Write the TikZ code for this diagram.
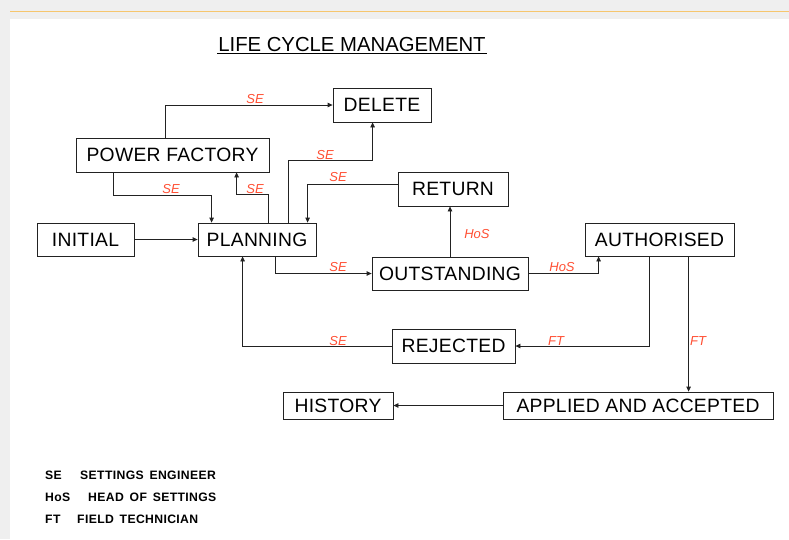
\documentclass[tikz,border=0pt]{standalone}
\usepackage{fontspec}
\setmainfont{Liberation Sans}
\newfontfamily\bxfont[LetterSpace=1.5]{Liberation Sans}
\newfontfamily\lgfont[LetterSpace=3]{Liberation Sans}
\usetikzlibrary{arrows.meta}
\definecolor{bggray}{HTML}{EFEFEF}
\definecolor{topline}{HTML}{F6C66E}
\definecolor{lblred}{HTML}{FF4F33}
\definecolor{linec}{HTML}{222222}
\tikzset{
  box/.style={draw=linec, line width=0.8pt, inner sep=0pt, font=\bxfont\fontsize{19.3}{21}\selectfont},
  arr/.style={draw=linec, line width=0.8pt, -{Triangle[length=5pt,width=4.5pt]}},
  lbl/.style={text=lblred, font=\fontsize{13}{14}\selectfont\itshape, inner sep=0pt},
  leg/.style={font=\lgfont\fontsize{12.2}{14}\selectfont\bfseries, inner sep=0pt, anchor=west}
}
\begin{document}
\begin{tikzpicture}[x=1pt,y=-1pt]
\useasboundingbox (0,0) rectangle (789,539);
\fill[bggray] (0,0) rectangle (789,539);
\draw[topline, line width=1pt] (10,11.5) -- (789,11.5);
\fill[white] (10,19) rectangle (789,539);

% title
\node[font=\fontsize{20.3}{22}\selectfont, inner sep=1pt] (title) at (352,45) {LIFE CYCLE MANAGEMENT};
\draw[line width=1pt] (title.south west) -- (title.south east);

% boxes
\node[box, minimum width=98pt, minimum height=34pt] (del) at (382,105) {DELETE};
\node[box, minimum width=193pt, minimum height=34pt] (pf) at (172.5,155) {POWER FACTORY};
\node[box, minimum width=118pt, minimum height=33pt] (pln) at (257,239.5) {PLANNING};
\node[box, minimum width=97pt, minimum height=33pt] (ini) at (85.5,239.5) {INITIAL};
\node[box, minimum width=110pt, minimum height=34pt] (ret) at (453,189) {RETURN};
\node[box, minimum width=156pt, minimum height=33pt] (out) at (450,273.5) {OUTSTANDING};
\node[box, minimum width=149pt, minimum height=33pt] (aut) at (659.5,239.5) {AUTHORISED};
\node[box, minimum width=270pt, minimum height=27pt] (app) at (638,405.5) {APPLIED AND ACCEPTED};
\node[box, minimum width=123pt, minimum height=34pt] (rej) at (453.5,346) {REJECTED};
\node[box, minimum width=110pt, minimum height=27pt] (hist) at (338,405.5) {HISTORY};

% connectors
\draw[arr] ([xshift=90pt]pf.north west) |- (del.west);
\draw[arr] ([xshift=38pt]pf.south west) -- ++(0,23) -| ([xshift=14pt]pln.north west);
\draw[arr] ([xshift=71pt]pln.north west) -- ++(0,-28) -| ([xshift=161pt]pf.south west);
\draw[arr] ([xshift=91pt]pln.north west) -- ++(0,-62) -| ([xshift=40pt]del.south west);
\draw[arr] ([yshift=5pt]ret.west) -| ([xshift=110pt]pln.north west);
\draw[arr] (ini.east) -- (pln.west);
\draw[arr] ([xshift=78pt]pln.south west) |- (out.west);
\coordinate (o1) at (out.north);
\draw[arr] (o1) -- (o1 |- ret.south);
\draw[arr] (out.east) -| ([xshift=14pt]aut.south west);
\draw[arr] ([xshift=65pt]aut.south west) |- (rej.east);
\coordinate (a2) at ([xshift=104pt]aut.south west);
\draw[arr] (a2) -- (a2 |- app.north);
\draw[arr] (rej.west) -| ([xshift=45pt]pln.south west);
\draw[arr] (app.west) -- (hist.east);

% labels
\node[lbl] (l1) at (255,99) {SE};
\node[lbl] (l2) at (171,189) {SE};
\node[lbl] (l3) at (255,189) {SE};
\node[lbl] (l4) at (325,155) {SE};
\node[lbl] (l5) at (338,177) {SE};
\node[lbl] (l6) at (338,267) {SE};
\node[lbl] (l7) at (338,341) {SE};
\node[lbl] (l8) at (477,234) {HoS};
\node[lbl] (l9) at (562,267) {HoS};
\node[lbl] (l10) at (556,341) {FT};
\node[lbl] (l11) at (698,341) {FT};

% legend
\node[leg] (g1) at (45,475) {SE};
\node[leg] (g2) at (80,475) {SETTINGS\, ENGINEER};
\node[leg] (g3) at (45,497) {HoS};
\node[leg] (g4) at (88,497) {HEAD\, OF\, SETTINGS};
\node[leg] (g5) at (45,519) {FT};
\node[leg] (g6) at (77,519) {FIELD\, TECHNICIAN};
\end{tikzpicture}
\end{document}
